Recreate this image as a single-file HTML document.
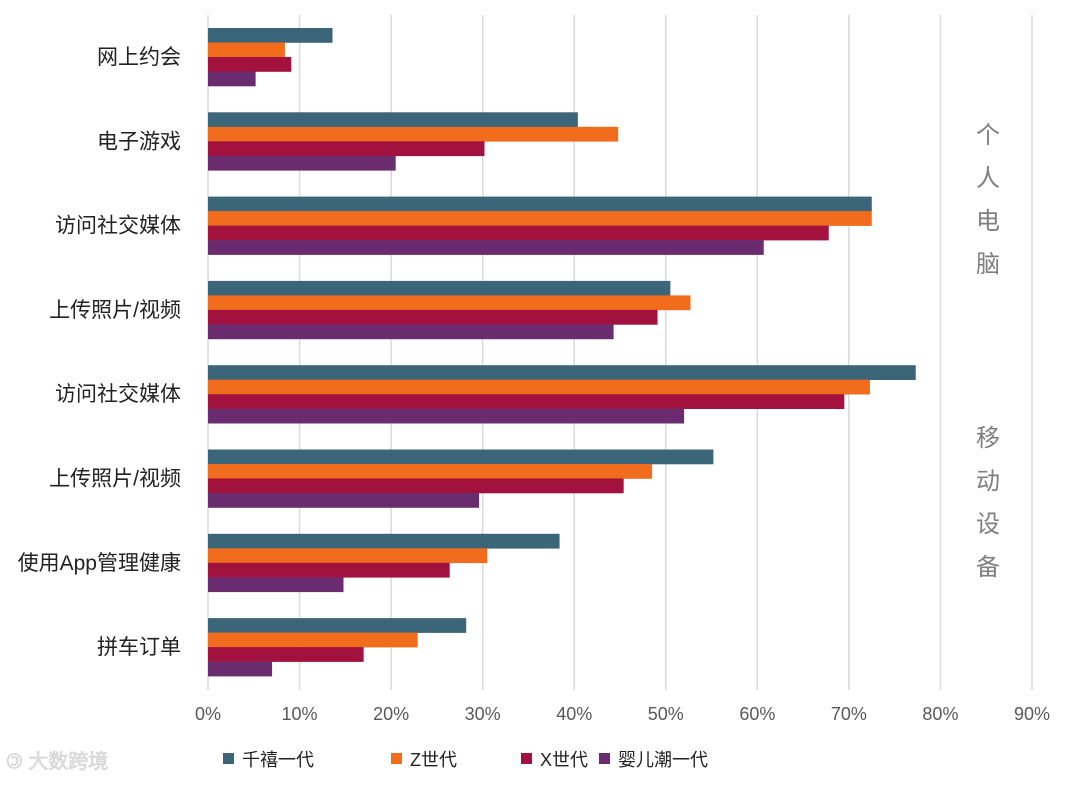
<!DOCTYPE html>
<html><head><meta charset="utf-8"><style>
body{margin:0;background:#fff;width:1080px;height:780px;overflow:hidden;font-family:"Liberation Sans","Noto Sans CJK SC",sans-serif}
</style></head><body>
<svg id="chart" width="1080" height="780" xmlns="http://www.w3.org/2000/svg" font-family="Liberation Sans, Noto Sans CJK SC, sans-serif"></svg>
<script>
const categories=["网上约会","电子游戏","访问社交媒体","上传照片/视频","访问社交媒体","上传照片/视频","使用App管理健康","拼车订单"];
const seriesNames=["千禧一代","Z世代","X世代","婴儿潮一代"];
const millennials=[13.6,40.4,72.5,50.5,77.3,55.2,38.4,28.2];
const genZ=[8.4,44.8,72.5,52.7,72.3,48.5,30.5,22.9];
const genX=[9.1,30.2,67.8,49.1,69.5,45.4,26.4,17.0];
const boomers=[5.2,20.5,60.7,44.3,52.0,29.6,14.8,7.0];
const xTicks=[0,10,20,30,40,50,60,70,80,90];
const colors=["#3b6579","#f26c1e","#a3123f","#6a2c6e"];
const series=[millennials,genZ,genX,boomers];
const svg=document.getElementById('chart');
const NS="http://www.w3.org/2000/svg";
const x0=208,pxPer=824/90;
const xs=v=>x0+v*pxPer;
const groupTop=i=>28+i*84.3;
const barH=14.5;
function mk(t,a,p){const e=document.createElementNS(NS,t);for(const k in a)e.setAttribute(k,a[k]);(p||svg).appendChild(e);return e;}
xTicks.forEach(t=>{
 const l=mk('line',{x1:xs(t),x2:xs(t),y1:15,y2:690,stroke:'#d9d9d9','stroke-width':1.5});
 
 
 const tx=mk('text',{x:xs(t),y:720,'text-anchor':'middle','font-size':18,fill:'#595959'});
 tx.textContent=t+'%';
 
 
});
categories.forEach((c,i)=>{
 const tx=mk('text',{x:181,y:groupTop(i)+36,'text-anchor':'end','font-size':21,fill:'#222'});
 tx.textContent=c;
 
 
 series.forEach((s,j)=>{
  const r=mk('rect',{x:x0,y:groupTop(i)+j*barH,width:xs(s[i])-x0,height:barH+0.3,fill:colors[j]});
  
  
 });
});
[["个",143],["人",186],["电",229],["脑",272],["移",446],["动",489],["设",532],["备",575]].forEach(([ch,y])=>{
 const t=mk('text',{x:988,y:y,'text-anchor':'middle','font-size':24,fill:'#7f7f7f'});
 t.textContent=ch;
 
 
});
const lx=[223,391,521,599];
seriesNames.forEach((n,j)=>{
 const r=mk('rect',{x:lx[j],y:753,width:11,height:11,fill:colors[j]});
 
 
 const t=mk('text',{x:lx[j]+19,y:766,'font-size':18,fill:'#222'});
 t.textContent=n;
 
 
});
const w=mk('text',{x:6,y:768,'font-size':20,fill:'#e3e3e3',stroke:'#cfcfcf','stroke-width':0.6});
w.textContent='🄯 大数跨境';


</script>
</body></html>
